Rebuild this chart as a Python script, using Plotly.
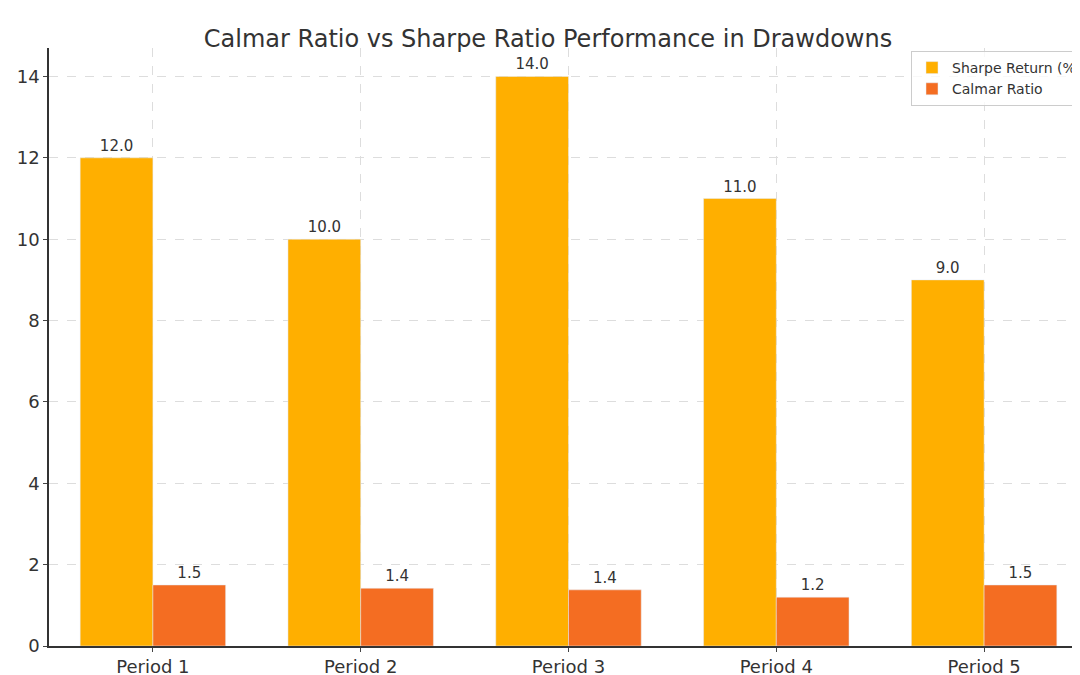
import plotly.graph_objects as go

periods = ["Period 1", "Period 2", "Period 3", "Period 4", "Period 5"]
sharpe_return = [12.0, 10.0, 14.0, 11.0, 9.0]
calmar_ratio = [1.5, 1.42, 1.38, 1.2, 1.5]

fig = go.Figure()
fig.add_trace(go.Bar(
    x=periods, y=sharpe_return, name="Sharpe Return (%)",
    marker_color="#FFAF00",
    text=[f"{v:.1f}" for v in sharpe_return], textposition="outside",
    textfont=dict(size=15, color="#333333"),
))
fig.add_trace(go.Bar(
    x=periods, y=calmar_ratio, name="Calmar Ratio",
    marker_color="#F46D22",
    text=[f"{v:.1f}" for v in calmar_ratio], textposition="outside",
    textfont=dict(size=15, color="#333333"),
))

fig.update_layout(
    width=1080, height=675,
    title=dict(text="Calmar Ratio vs Sharpe Ratio Performance in Drawdowns",
               x=0.5, y=0.967, font=dict(size=24, color="#333333")),
    font=dict(family="DejaVu Sans", color="#333333"),
    plot_bgcolor="white", paper_bgcolor="white",
    barmode="group", bargap=0.3, bargroupgap=0,
    margin=dict(l=41, r=0, t=40, b=37),
    showlegend=True,
    legend=dict(x=1, y=0.995, xanchor="right", yanchor="top",
                bgcolor="rgba(255,255,255,0.8)", bordercolor="#cccccc",
                borderwidth=1, font=dict(size=14)),
    xaxis=dict(showgrid=True, gridcolor="#dddddd", griddash="dash",
               showline=True, linecolor="#333333", linewidth=1.5,
               tickfont=dict(size=18), ticks="outside", ticklen=4,
               automargin=False),
    yaxis=dict(range=[0, 14.7], dtick=2, showgrid=True, gridcolor="#dddddd",
               griddash="dash", showline=True, linecolor="#333333",
               linewidth=1.5, tickfont=dict(size=18), ticks="outside",
               ticklen=4, zeroline=False, automargin=False),
)
fig.update_traces(cliponaxis=False)

fig.write_html("out.html")
